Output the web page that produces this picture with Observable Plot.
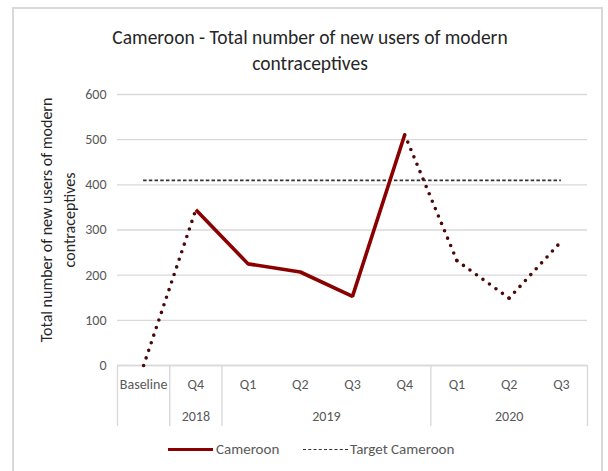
<!DOCTYPE html>
<html>
<head>
<meta charset="utf-8">
<script src="https://cdn.jsdelivr.net/npm/d3@7"></script>
<script src="https://cdn.jsdelivr.net/npm/@observablehq/plot@0.6"></script>
<style>
  html, body { margin: 0; padding: 0; background: #fff; }
  body { font-family: Calibri, Carlito, Lato, sans-serif; }
  #wrap { position: relative; width: 608px; height: 471px; overflow: hidden; background: #fff; }
  #frame { position: absolute; left: 12px; top: 7px; width: 591px; height: 480px; border: 2px solid #d9d9d9; box-sizing: border-box; }
  #title { position: absolute; left: 0; width: 620px; top: 24px; text-align: center; font-size: 19.5px; line-height: 26px; color: #262626; }
  #ylabel { position: absolute; left: 58px; top: 220px; width: 300px; transform: translate(-50%, -50%) rotate(-90deg); text-align: center; font-size: 16px; line-height: 23px; color: #262626; }
  .lg { position: absolute; top: 440px; font-size: 15px; line-height: 18px; color: #595959; white-space: nowrap; }
  .sw { position: absolute; width: 45px; height: 0; }
  #chart { position: absolute; left: 0; top: 0; }
</style>
</head>
<body>
<div id="wrap">
  <div id="frame"></div>
  <div id="chart"></div>
  <div id="title">Cameroon - Total number of new users of modern<br>contraceptives</div>
  <div id="ylabel">Total number of new users of modern<br>contraceptives</div>
  <span class="sw" style="left:168px; top:448px; border-top:3.5px solid #8b0000;"></span>
  <span class="lg" style="left:216px;">Cameroon</span>
  <span class="sw" style="left:303px; top:449px; border-top:1.8px dashed #333;"></span>
  <span class="lg" style="left:350px;">Target Cameroon</span>
</div>
<script>
// ---- data ----
const categories = ["Baseline", "Q4", "Q1", "Q2", "Q3", "Q4", "Q1", "Q2", "Q3"];
const yearOf = ["", "2018", "2019", "2019", "2019", "2019", "2020", "2020", "2020"];
const values = [0, 345, 225, 207, 153, 511, 232, 149, 275];
const target = 410;
// segment style between point i and i+1
const segmentStyle = ["dotted", "solid", "solid", "solid", "solid", "dotted", "dotted", "dotted"];
const yTicks = [0, 100, 200, 300, 400, 500, 600];

// ---- derived ----
const segs = [];
segmentStyle.forEach((s, k) => {
  segs.push({k, style: s, i: k, v: values[k]});
  segs.push({k, style: s, i: k + 1, v: values[k + 1]});
});
const solid = segs.filter(d => d.style === "solid");
const dotted = segs.filter(d => d.style === "dotted");

// year groups
const groups = [];
yearOf.forEach((y, i) => {
  const g = groups[groups.length - 1];
  if (g && g.year === y) g.end = i; else groups.push({year: y, start: i, end: i});
});
const yearCenters = groups.filter(g => g.year).map(g => ({pos: (g.start + g.end) / 2, year: g.year}));
const yearByPos = new Map(yearCenters.map(d => [d.pos, d.year]));
// separators: outer edge, then end of each group
const separators = [-0.5];
groups.forEach(g => separators.push(g.end + 0.5));

const chart = Plot.plot({
  width: 608,
  height: 471,
  marginLeft: 117,
  marginRight: 21,
  marginTop: 94,
  marginBottom: 106,
  style: {fontFamily: "Calibri, Carlito, Lato, sans-serif", fontSize: "14px", color: "#595959", background: "transparent"},
  x: {type: "linear", domain: [-0.5, categories.length - 0.5], axis: null},
  y: {domain: [0, 600], axis: null},
  marks: [
    Plot.gridY(yTicks, {stroke: "#d9d9d9", strokeOpacity: 1, strokeWidth: 1.4}),
    Plot.axisY(yTicks, {tickSize: 0, tickPadding: 11, fill: "#595959", fontSize: 14, label: null}),
    Plot.ruleY([0], {stroke: "#d9d9d9", strokeWidth: 1.4}),
    Plot.axisX(separators, {tickSize: 61, tickFormat: () => "", stroke: "#d9d9d9", strokeWidth: 1.4, label: null}),
    Plot.axisX(d3.range(categories.length), {tickSize: 0, tickPadding: 14, tickFormat: i => categories[i], fill: "#595959", fontSize: 14, label: null}),
    Plot.axisX(yearCenters.map(d => d.pos), {tickSize: 0, tickPadding: 46, tickFormat: p => yearByPos.get(p), fill: "#595959", fontSize: 14, label: null}),
    Plot.ruleY([target], {x1: 0, x2: categories.length - 1, stroke: "#333", strokeWidth: 1.8, strokeDasharray: "3.5 2.2"}),
    Plot.line(dotted, {x: "i", y: "v", z: "k", stroke: "#4a0808", strokeWidth: 3.6, strokeLinecap: "round", strokeDasharray: "0 8"}),
    Plot.line(solid, {x: "i", y: "v", stroke: "#8b0000", strokeWidth: 3.6, strokeLinejoin: "miter", strokeLinecap: "butt"})
  ]
});
document.getElementById("chart").appendChild(chart);
</script>
</body>
</html>
